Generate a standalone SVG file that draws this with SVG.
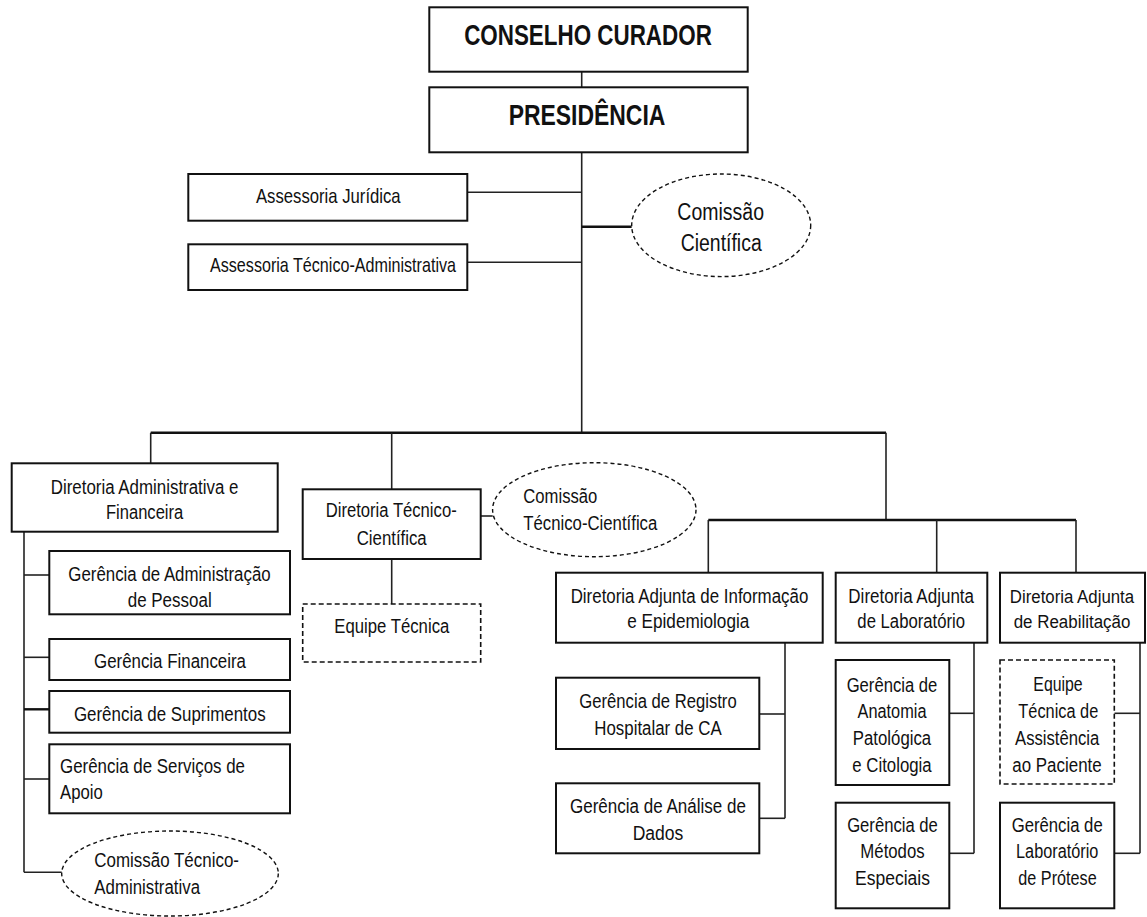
<svg xmlns="http://www.w3.org/2000/svg" width="1147" height="917" viewBox="0 0 1147 917">
<style>
.box{fill:#fff;stroke:#111;stroke-width:2}
.dbox{fill:#fff;stroke:#111;stroke-width:1.6;stroke-dasharray:5 3}
.ell{fill:#fff;stroke:#111;stroke-width:1.4;stroke-dasharray:4 3}
.ln{stroke:#222;stroke-width:1.6;fill:none}
.lt{stroke:#111;stroke-width:2.4;fill:none}
text{font-family:"Liberation Sans",Arial,sans-serif;fill:#111}
.t{font-size:20px;text-anchor:middle}
.t18{font-size:18px;text-anchor:middle}
.ts{font-size:20px;text-anchor:start}
.ta{font-size:21px;text-anchor:middle}
.tc{font-size:23px;text-anchor:middle}
.tb{font-size:29px;font-weight:bold;text-anchor:middle}
</style>
<rect width="1147" height="917" fill="#fff"/>
<g id="connectors">
<line class="ln" x1="581.7" y1="71.7" x2="581.7" y2="87.3"/>
<line class="ln" x1="581.7" y1="152.3" x2="581.7" y2="432.7"/>
<line class="ln" x1="467.3" y1="192.3" x2="581.7" y2="192.3"/>
<line class="ln" x1="467.3" y1="262.3" x2="581.7" y2="262.3"/>
<line class="lt" x1="581.7" y1="226.7" x2="631.7" y2="226.7"/>
<line class="lt" x1="150.7" y1="432.7" x2="886" y2="432.7"/>
<line class="ln" x1="150.7" y1="432.7" x2="150.7" y2="463.3"/>
<line class="ln" x1="391.7" y1="432.7" x2="391.7" y2="489.3"/>
<line class="ln" x1="886" y1="432.7" x2="886" y2="520"/>
<line class="lt" x1="708.3" y1="520" x2="1076" y2="520"/>
<line class="ln" x1="708.3" y1="520" x2="708.3" y2="572.7"/>
<line class="ln" x1="936.7" y1="520" x2="936.7" y2="572.7"/>
<line class="ln" x1="1076" y1="520" x2="1076" y2="572.7"/>
<line class="ln" x1="24" y1="531.7" x2="24" y2="872.3"/>
<line class="ln" x1="24" y1="575" x2="49.3" y2="575"/>
<line class="ln" x1="24" y1="657.3" x2="49.3" y2="657.3"/>
<line class="lt" x1="24" y1="709.3" x2="49.3" y2="709.3"/>
<line class="ln" x1="24" y1="779" x2="49.3" y2="779"/>
<line class="ln" x1="24" y1="872.3" x2="61.7" y2="872.3"/>
<line class="ln" x1="391.7" y1="559" x2="391.7" y2="604"/>
<line class="ln" x1="480.7" y1="516" x2="492.7" y2="516"/>
<line class="ln" x1="785" y1="642.7" x2="785" y2="818.3"/>
<line class="ln" x1="759.3" y1="714" x2="785" y2="714"/>
<line class="ln" x1="759.3" y1="818.3" x2="785" y2="818.3"/>
<line class="ln" x1="974" y1="642.7" x2="974" y2="853.3"/>
<line class="ln" x1="949.3" y1="713.3" x2="974" y2="713.3"/>
<line class="ln" x1="949.3" y1="853.3" x2="974" y2="853.3"/>
<line class="ln" x1="1140" y1="642.7" x2="1140" y2="853.3"/>
<line class="ln" x1="1114.3" y1="713.3" x2="1140" y2="713.3"/>
<line class="ln" x1="1114.3" y1="853.3" x2="1140" y2="853.3"/>
</g>
<g id="conselho">
<rect class="box" x="429.3" y="7.3" width="318.4" height="64.4"/>
<text class="tb" x="588" y="45" textLength="247.7" lengthAdjust="spacingAndGlyphs">CONSELHO CURADOR</text>
</g>
<g id="presidencia">
<rect class="box" x="429.3" y="87.3" width="318.4" height="65"/>
<text class="tb" x="587" y="125" textLength="156.7" lengthAdjust="spacingAndGlyphs">PRESIDÊNCIA</text>
</g>
<g id="assessoria-juridica">
<rect class="box" x="188.3" y="174" width="279" height="46.7"/>
<text class="ta" x="328.3" y="203.3" textLength="144.7" lengthAdjust="spacingAndGlyphs">Assessoria Jurídica</text>
</g>
<g id="assessoria-tecnico-administrativa">
<rect class="box" x="188.3" y="244.3" width="279" height="45.7"/>
<text class="ta" x="333" y="272.3" textLength="246" lengthAdjust="spacingAndGlyphs">Assessoria Técnico-Administrativa</text>
</g>
<g id="comissao-cientifica">
<ellipse class="ell" cx="721.2" cy="225.3" rx="89.5" ry="51.3"/>
<text class="tc" x="720.7" y="220" textLength="86.7" lengthAdjust="spacingAndGlyphs">Comissão</text>
<text class="tc" x="721.2" y="250.7" textLength="81" lengthAdjust="spacingAndGlyphs">Científica</text>
</g>
<g id="diretoria-administrativa">
<rect class="box" x="11.7" y="463.3" width="266" height="68.4"/>
<text class="t" x="144.6" y="494" textLength="187.7" lengthAdjust="spacingAndGlyphs">Diretoria Administrativa e</text>
<text class="t" x="144.6" y="519.3" textLength="77.3" lengthAdjust="spacingAndGlyphs">Financeira</text>
</g>
<g id="gerencia-pessoal">
<rect class="box" x="49.3" y="551" width="240.7" height="63.3"/>
<text class="t" x="169.5" y="580.7" textLength="202.3" lengthAdjust="spacingAndGlyphs">Gerência de Administração</text>
<text class="t" x="169.7" y="606.7" textLength="84" lengthAdjust="spacingAndGlyphs">de Pessoal</text>
</g>
<g id="gerencia-financeira">
<rect class="box" x="49.3" y="639" width="240.7" height="41"/>
<text class="t" x="170" y="668.3" textLength="152" lengthAdjust="spacingAndGlyphs">Gerência Financeira</text>
</g>
<g id="gerencia-suprimentos">
<rect class="box" x="49.3" y="691" width="240.7" height="41.7"/>
<text class="t" x="169.8" y="720.7" textLength="191.7" lengthAdjust="spacingAndGlyphs">Gerência de Suprimentos</text>
</g>
<g id="gerencia-servicos-apoio">
<rect class="box" x="49.3" y="744.3" width="240.7" height="69"/>
<text class="ts" x="60" y="772.7" textLength="185" lengthAdjust="spacingAndGlyphs">Gerência de Serviços de</text>
<text class="ts" x="60" y="799.3" textLength="42.7" lengthAdjust="spacingAndGlyphs">Apoio</text>
</g>
<g id="comissao-tecnico-administrativa">
<ellipse class="ell" cx="170" cy="873.5" rx="108.3" ry="42.5"/>
<text class="ts" x="94.3" y="866.7" textLength="144.7" lengthAdjust="spacingAndGlyphs">Comissão Técnico-</text>
<text class="ts" x="94.3" y="894" textLength="105.7" lengthAdjust="spacingAndGlyphs">Administrativa</text>
</g>
<g id="diretoria-tecnico-cientifica">
<rect class="box" x="302.7" y="489.3" width="178" height="69.7"/>
<text class="t" x="391.2" y="517.3" textLength="131" lengthAdjust="spacingAndGlyphs">Diretoria Técnico-</text>
<text class="t" x="391.7" y="545" textLength="70" lengthAdjust="spacingAndGlyphs">Científica</text>
</g>
<g id="equipe-tecnica">
<rect class="dbox" x="302.7" y="604" width="178" height="58"/>
<text class="t" x="391.8" y="633.3" textLength="115" lengthAdjust="spacingAndGlyphs">Equipe Técnica</text>
</g>
<g id="comissao-tecnico-cientifica">
<ellipse class="ell" cx="594.3" cy="509.7" rx="101.7" ry="47"/>
<text class="ts" x="523.3" y="503.3" textLength="74" lengthAdjust="spacingAndGlyphs">Comissão</text>
<text class="ts" x="523.3" y="530" textLength="134" lengthAdjust="spacingAndGlyphs">Técnico-Científica</text>
</g>
<g id="diretoria-informacao">
<rect class="box" x="556" y="572.7" width="266.7" height="70"/>
<text class="t" x="689.5" y="603.3" textLength="237.7" lengthAdjust="spacingAndGlyphs">Diretoria Adjunta de Informação</text>
<text class="t" x="688.3" y="628.3" textLength="122" lengthAdjust="spacingAndGlyphs">e Epidemiologia</text>
</g>
<g id="gerencia-registro">
<rect class="box" x="556" y="677.7" width="203.3" height="71.3"/>
<text class="t" x="658" y="708.3" textLength="157.3" lengthAdjust="spacingAndGlyphs">Gerência de Registro</text>
<text class="t" x="658" y="735" textLength="127.3" lengthAdjust="spacingAndGlyphs">Hospitalar de CA</text>
</g>
<g id="gerencia-analise">
<rect class="box" x="556" y="783.3" width="203.3" height="70"/>
<text class="t" x="658" y="813.3" textLength="176" lengthAdjust="spacingAndGlyphs">Gerência de Análise de</text>
<text class="t" x="658" y="840" textLength="50.7" lengthAdjust="spacingAndGlyphs">Dados</text>
</g>
<g id="diretoria-laboratorio">
<rect class="box" x="835.7" y="572.7" width="151.6" height="70"/>
<text class="t" x="911.2" y="603.3" textLength="125.7" lengthAdjust="spacingAndGlyphs">Diretoria Adjunta</text>
<text class="t" x="911.2" y="628.3" textLength="107.7" lengthAdjust="spacingAndGlyphs">de Laboratório</text>
</g>
<g id="gerencia-anatomia">
<rect class="box" x="835.7" y="660" width="113.6" height="125"/>
<text class="t" x="892" y="691.7" textLength="90.7" lengthAdjust="spacingAndGlyphs">Gerência de</text>
<text class="t" x="892" y="718.3" textLength="69" lengthAdjust="spacingAndGlyphs">Anatomia</text>
<text class="t" x="892" y="745" textLength="78.3" lengthAdjust="spacingAndGlyphs">Patológica</text>
<text class="t" x="892" y="771.7" textLength="79.3" lengthAdjust="spacingAndGlyphs">e Citologia</text>
</g>
<g id="gerencia-metodos">
<rect class="box" x="835.7" y="802.7" width="113.6" height="105.6"/>
<text class="t" x="892.5" y="831.7" textLength="90.7" lengthAdjust="spacingAndGlyphs">Gerência de</text>
<text class="t" x="892.5" y="858.3" textLength="64.3" lengthAdjust="spacingAndGlyphs">Métodos</text>
<text class="t" x="892.5" y="885" textLength="75" lengthAdjust="spacingAndGlyphs">Especiais</text>
</g>
<g id="diretoria-reabilitacao">
<rect class="box" x="1000" y="572.7" width="145" height="70"/>
<text class="t18" x="1072" y="603.3" textLength="124.3" lengthAdjust="spacingAndGlyphs">Diretoria Adjunta</text>
<text class="t18" x="1072" y="628.3" textLength="116.7" lengthAdjust="spacingAndGlyphs">de Reabilitação</text>
</g>
<g id="equipe-assistencia">
<rect class="dbox" x="1000" y="660" width="114.3" height="124"/>
<text class="t" x="1058" y="690.7" textLength="49.3" lengthAdjust="spacingAndGlyphs">Equipe</text>
<text class="t" x="1058.3" y="718.3" textLength="80" lengthAdjust="spacingAndGlyphs">Técnica de</text>
<text class="t" x="1057.2" y="745" textLength="84.3" lengthAdjust="spacingAndGlyphs">Assistência</text>
<text class="t" x="1057" y="771.7" textLength="89.3" lengthAdjust="spacingAndGlyphs">ao Paciente</text>
</g>
<g id="gerencia-protese">
<rect class="box" x="1000" y="802.7" width="114.3" height="105.6"/>
<text class="t" x="1057.2" y="831.7" textLength="91" lengthAdjust="spacingAndGlyphs">Gerência de</text>
<text class="t" x="1057.2" y="858.3" textLength="82.3" lengthAdjust="spacingAndGlyphs">Laboratório</text>
<text class="t" x="1057.5" y="885" textLength="78.3" lengthAdjust="spacingAndGlyphs">de Prótese</text>
</g>
</svg>
